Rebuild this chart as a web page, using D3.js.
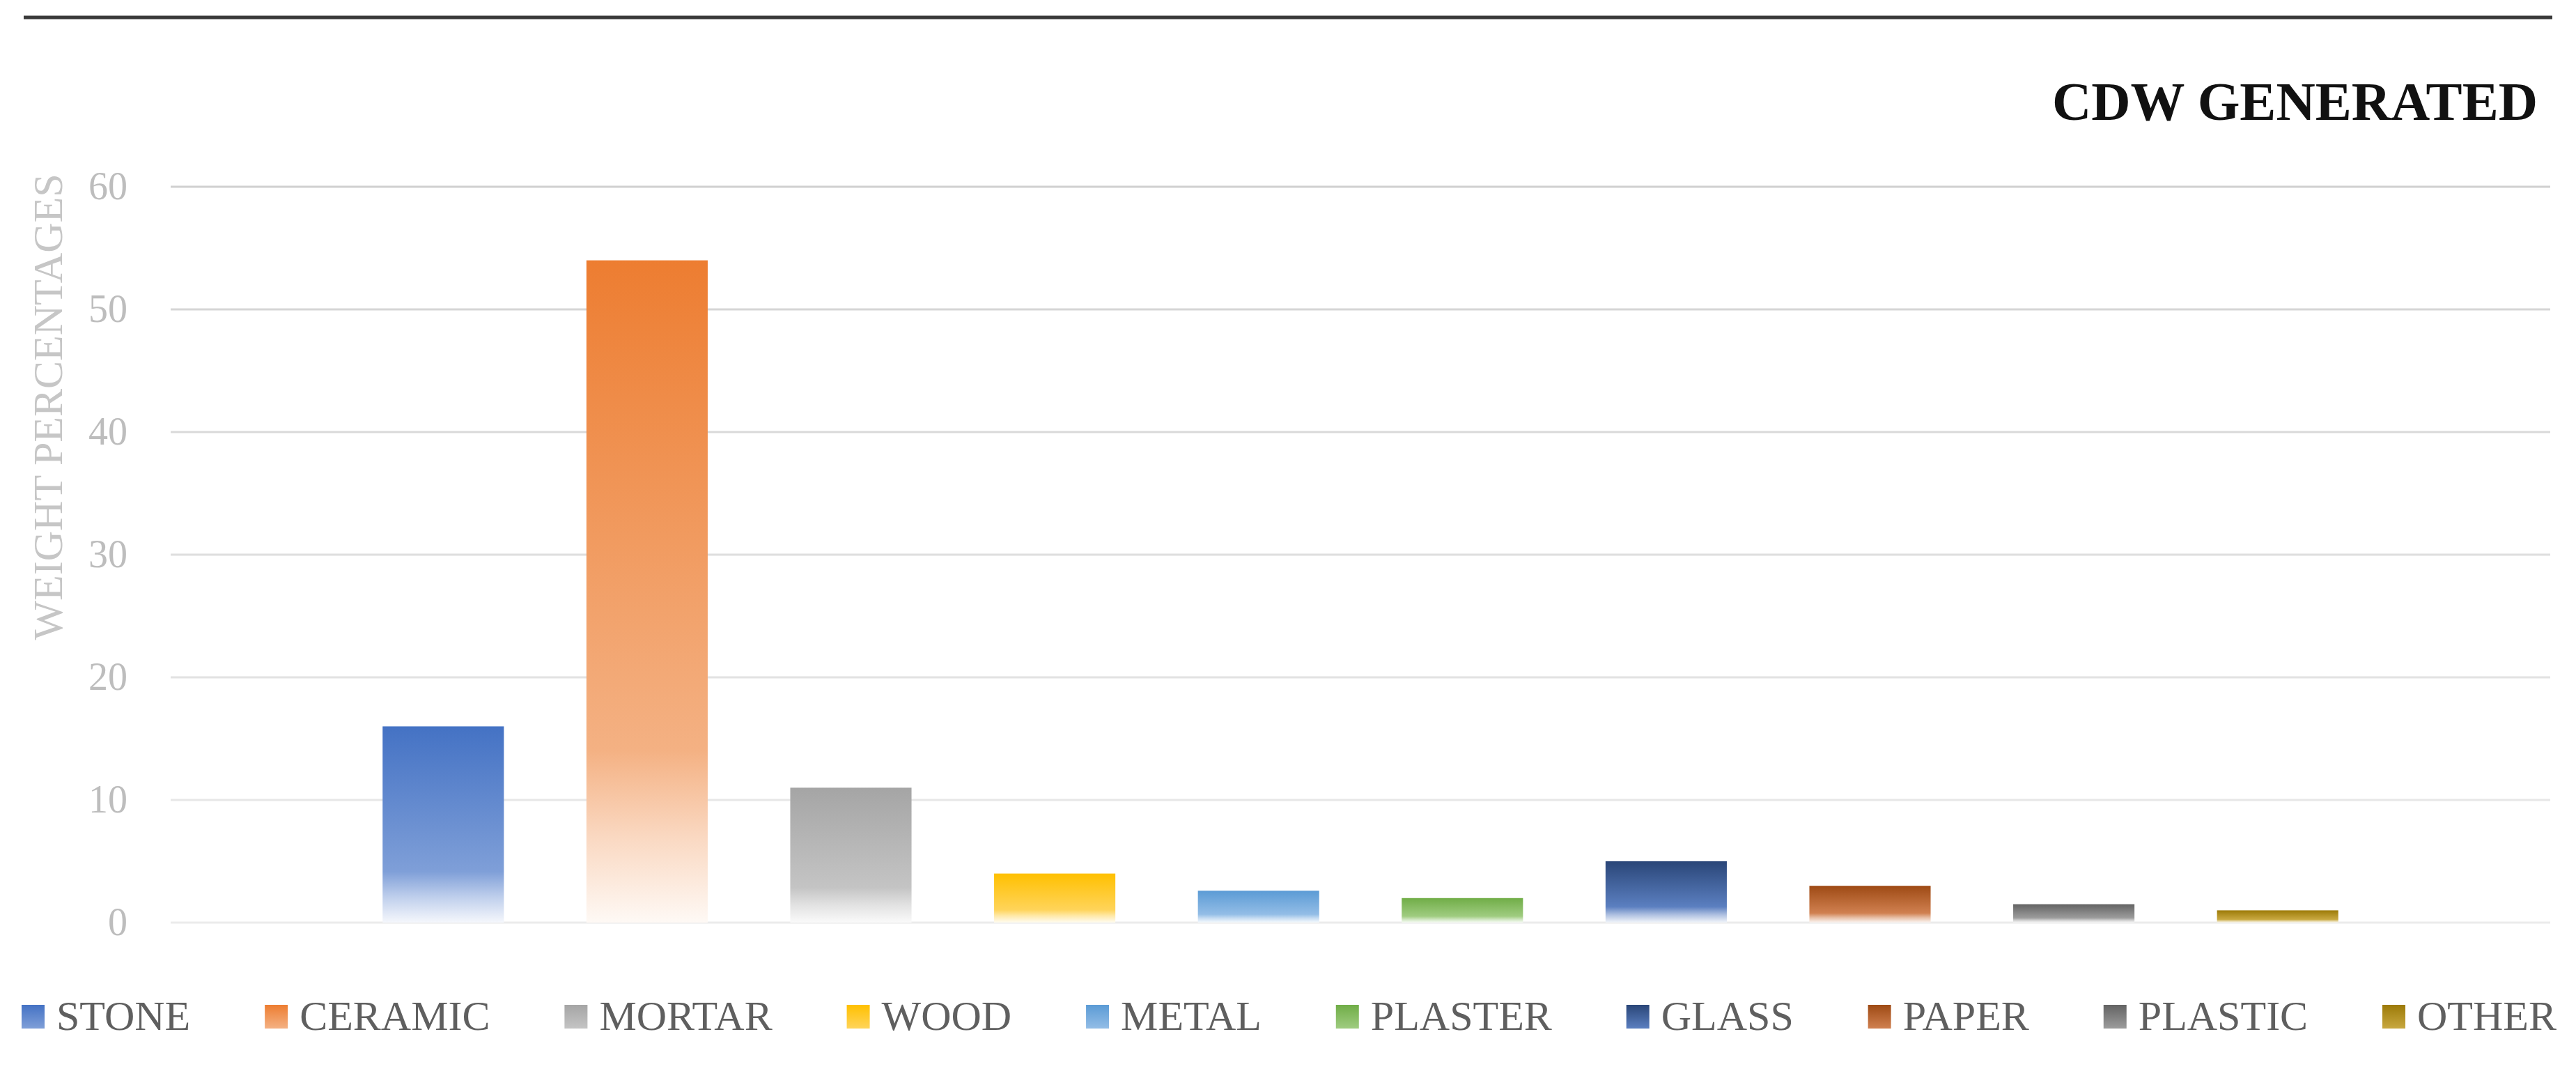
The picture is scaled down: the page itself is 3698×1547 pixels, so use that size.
<!DOCTYPE html>
<html>
<head>
<meta charset="utf-8">
<script src="https://cdn.jsdelivr.net/npm/d3@7"></script>
<style>
  body { margin: 0; background: #fff; }
  text { font-family: "Liberation Serif", "DejaVu Serif", serif; }
</style>
</head>
<body>
<svg id="chart" width="3698" height="1547"></svg>
<script>
// data
const categories = ["STONE", "CERAMIC", "MORTAR", "WOOD", "METAL", "PLASTER", "GLASS", "PAPER", "PLASTIC", "OTHER"];
const values = [16, 54, 11, 4, 2.6, 2, 5, 3, 1.5, 1];
const yTicks = [0, 10, 20, 30, 40, 50, 60];

// colours: top of the bar, lighter tone further down
const topColors = ["#4472c4", "#ed7d31", "#a5a5a5", "#ffc000", "#5b9bd5", "#70ad47", "#2a4678", "#9e4a14", "#636363", "#9c7a08"];
const lowColors = ["#7f9fd8", "#f4b183", "#c4c4c4", "#ffd45a", "#93bde6", "#9fcc80", "#5b7fc0", "#d08050", "#9c9c9c", "#c8a840"];

const svg = d3.select("#chart");
const W = 3698, H = 1547;
const plot = { left: 245, right: 3661, top: 268, bottom: 1324 };

svg.append("rect").attr("width", W).attr("height", H).attr("fill", "#fff");

// gradients, one per bar
const defs = svg.append("defs");
categories.forEach((c, i) => {
  const g = defs.append("linearGradient")
    .attr("id", "grad" + i)
    .attr("x1", 0).attr("y1", 0).attr("x2", 0).attr("y2", 1);
  const white = d3.interpolateRgb(lowColors[i], "#ffffff");
  g.append("stop").attr("offset", "0%").attr("stop-color", topColors[i]);
  g.append("stop").attr("offset", "74%").attr("stop-color", lowColors[i]);
  g.append("stop").attr("offset", "87%").attr("stop-color", white(0.5));
  g.append("stop").attr("offset", "100%").attr("stop-color", white(0.92));
});
// legend swatches fade less
categories.forEach((c, i) => {
  const g = defs.append("linearGradient")
    .attr("id", "key" + i)
    .attr("x1", 0).attr("y1", 0).attr("x2", 0).attr("y2", 1);
  g.append("stop").attr("offset", "0%").attr("stop-color", topColors[i]);
  g.append("stop").attr("offset", "100%").attr("stop-color", lowColors[i]);
});

// top rule
svg.append("line")
  .attr("x1", 34).attr("x2", 3664)
  .attr("y1", 25).attr("y2", 25)
  .attr("stroke", "#3a3a3a").attr("stroke-width", 5);

// title
svg.append("text")
  .attr("x", 3643).attr("y", 172)
  .attr("text-anchor", "end")
  .attr("font-size", 78).attr("font-weight", "bold")
  .attr("fill", "#111")
  .text("CDW GENERATED");

// scales
const y = d3.scaleLinear().domain([0, 60]).range([plot.bottom, plot.top]);
const x = d3.scaleBand()
  .domain(categories)
  .range([490, 3416])
  .paddingInner(0.405)
  .paddingOuter(0.2025);

// gridlines (lighter towards the bottom, as in the picture)
const gridColor = d3.interpolateRgb("#ebebeb", "#d0d0d0");
svg.append("g")
  .selectAll("line")
  .data(yTicks)
  .join("line")
  .attr("x1", plot.left).attr("x2", plot.right)
  .attr("y1", d => y(d)).attr("y2", d => y(d))
  .attr("stroke", d => gridColor(d / 60))
  .attr("stroke-width", 3);

// y axis labels
const yAxis = svg.append("g")
  .attr("transform", `translate(${plot.left},0)`)
  .call(d3.axisLeft(y).tickValues(yTicks).tickSize(0).tickPadding(62));
yAxis.select(".domain").remove();
yAxis.selectAll("text")
  .attr("font-family", "Liberation Serif, serif")
  .attr("font-size", 56)
  .attr("fill", "#bdbdbd");

// y axis title
svg.append("text")
  .attr("transform", "translate(89,584) rotate(-90)")
  .attr("text-anchor", "middle")
  .attr("font-size", 60)
  .attr("fill", "#c6c6c6")
  .text("WEIGHT PERCENTAGES");

// bars
svg.append("g")
  .selectAll("rect")
  .data(values)
  .join("rect")
  .attr("x", (d, i) => x(categories[i]))
  .attr("y", d => y(d))
  .attr("width", x.bandwidth())
  .attr("height", d => y(0) - y(d))
  .attr("fill", (d, i) => `url(#grad${i})`);

// legend, spread between the left and right edges
const legend = svg.append("g");
const items = legend.selectAll("g")
  .data(categories)
  .join("g");
items.append("rect")
  .attr("y", 1442)
  .attr("width", 33).attr("height", 34)
  .attr("fill", (d, i) => `url(#key${i})`);
items.append("text")
  .attr("x", 50).attr("y", 1478)
  .attr("font-size", 60)
  .attr("fill", "#5f5f5f")
  .text(d => d);

const widths = [];
items.each(function () {
  widths.push(50 + d3.select(this).select("text").node().getComputedTextLength());
});
const legLeft = 31, legRight = 3670;
const gap = (legRight - legLeft - d3.sum(widths)) / (categories.length - 1);
let cx = legLeft;
items.attr("transform", (d, i) => {
  const t = `translate(${cx},0)`;
  cx += widths[i] + gap;
  return t;
});
</script>
</body>
</html>
